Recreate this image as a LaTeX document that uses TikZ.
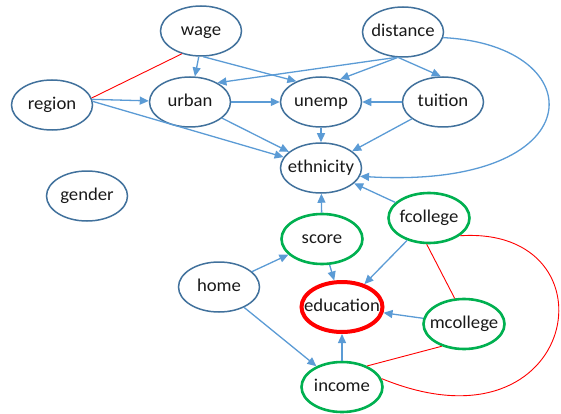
\documentclass[tikz,border=0pt]{standalone}
\usepackage{fontspec}
\setmainfont{Carlito}
\usetikzlibrary{shapes.geometric,arrows.meta}
\definecolor{nodeblue}{HTML}{41719C}
\definecolor{edgeblue}{HTML}{5B9BD5}
\definecolor{grn}{HTML}{00B050}
\newcommand{\lbl}[1]{\makebox[0pt]{\scalebox{1.04}[1]{#1}}}
\begin{document}
\begin{tikzpicture}[x=1pt,y=-1pt,
 var/.style={ellipse, draw=nodeblue, line width=1.5pt, minimum width=81pt, minimum height=50pt, inner sep=0pt, font=\fontsize{18}{18}\selectfont, text=black!90, text height=12pt, text depth=3pt},
 gvar/.style={var, draw=grn, line width=2.6pt},
 target/.style={var, draw=red, line width=4pt},
 arr/.style={draw=edgeblue, line width=1.3pt, -{Triangle[length=9pt,width=8pt]}},
 assoc/.style={draw=red, line width=0.9pt}]
\useasboundingbox (0,0) rectangle (561,414);
\node[var] (wage) at (201,31) {\lbl{wage}};
\node[var] (region) at (52,105) {\lbl{region}};
\node[var] (urban) at (190,102) {\lbl{urban}};
\node[var] (gender) at (87,196) {\lbl{gender}};
\node[var] (distance) at (403,32) {\lbl{distance}};
\node[var] (unemp) at (321,102) {\lbl{unemp}};
\node[var] (tuition) at (443,102) {\lbl{tuition}};
\node[var] (ethnicity) at (321,168) {\lbl{ethnicity}};
\node[var] (home) at (219,287) {\lbl{home}};
\node[gvar] (score) at (322,239) {\lbl{score}};
\node[gvar] (fcollege) at (429,218) {\lbl{fcollege}};
\node[target] (education) at (342,307) {\lbl{education}};
\node[gvar] (mcollege) at (464,324) {\lbl{mcollege}};
\node[gvar] (income) at (342,387) {\lbl{income}};
% associations
\draw[assoc] (region.10) -- (wage.-130);
\draw[assoc] (fcollege.-95) -- (mcollege.110);
\draw[assoc] (mcollege.-135) -- (income.40);
\draw[assoc] (fcollege.-30) .. controls (620,225) and (580,460) .. (income.12);
% arrows
\draw[arr] (wage.-95) -- (urban);
\draw[arr] (wage.-85) -- (unemp.140);
\draw[arr] (region.8) -- (urban);
\draw[arr] (region.5) -- (ethnicity);
\draw[arr] (distance.-105) -- (urban.35);
\draw[arr] (distance.-102) -- (unemp.50);
\draw[arr] (distance.-100) -- (tuition.95);
\draw[arr] (distance.-8) .. controls (595,45) and (595,190) .. (ethnicity.-12);
\draw[arr] (urban) -- (unemp);
\draw[arr] (urban) -- (ethnicity);
\draw[arr] (tuition) -- (unemp);
\draw[arr] (tuition) -- (ethnicity);
\draw[arr] (unemp) -- (ethnicity);
\draw[arr] (score) -- (ethnicity);
\draw[arr] (fcollege) -- (ethnicity);
\draw[arr] (home) -- (score);
\draw[arr] (score) -- (education);
\draw[arr] (fcollege) -- (education);
\draw[arr] (mcollege) -- (education);
\draw[arr] (income) -- (education);
\draw[arr] (home) -- (income);
\end{tikzpicture}
\end{document}
